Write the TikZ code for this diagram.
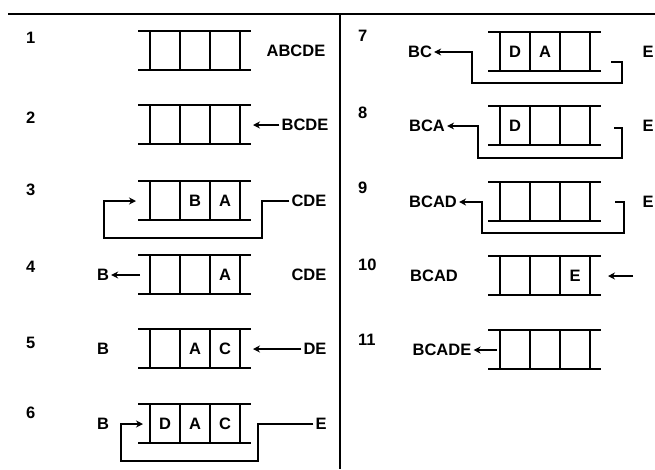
\documentclass[tikz,border=0pt]{standalone}
\usepackage{fontspec}
\setmainfont{Liberation Sans}
\usetikzlibrary{arrows.meta}

\begin{document}
\begin{tikzpicture}[x=1pt,y=-1pt]
\tikzstyle{T}=[inner sep=2pt,font=\bfseries\fontsize{16.5}{18}\selectfont]
\tikzstyle{Q}=[line width=1.8pt]
\tikzstyle{L}=[line width=1.4pt]
\tikzstyle{A}=[line width=1.4pt,-{Stealth[length=7pt,width=7pt]}]
\useasboundingbox (0,0) rectangle (655,469);
\draw[L] (8,14) -- (655,14);
\draw[L] (340,14) -- (340,469);
% queues: number/left end/top
\foreach \n/\x/\y in {1/138/31,2/138/105,3/138/181,4/138/255,5/138/329,6/138/404,
  7/488/32,8/488/106,9/488/182,10/488/256,11/488/330}{
  \draw[Q] (\x,\y) -- ++(113,0) (\x,\y+39) -- ++(113,0);
  \foreach \c in {0,1,2,3} \draw[Q] (\x+12+30*\c,\y) -- ++(0,39);
  \foreach \c in {1,2,3} \coordinate (q\n-\c) at (\x-3+30*\c,\y+20);
  \coordinate (q\n-l) at (\x,\y+20);
  \coordinate (q\n-r) at (\x+113,\y+20);
}
% step numbers
\foreach \n/\x/\y in {1/24/38,2/24/118,3/24/190,4/24/267,5/24/343,6/24/413,
  7/356/36,8/356/113,9/356/188,10/356/265,11/356/340}
  \node[T,anchor=west] (n\n) at (\x,\y) {\n};

% 1, 2
\node[T] (t1) at (296,51) {ABCDE};
\node[T] (t2) at (305,125) {BCDE};
\draw[A] (t2.west) -- ([xshift=2]q2-r);
% 3
\node[T] at (q3-2) {B};
\node[T] at (q3-3) {A};
\node[T] (t3) at (309,201) {CDE};
\draw[A] (t3.west) -- ([xshift=11]q3-r) -- ++(0,37) -| ([xshift=-34]q3-l) -- ([xshift=-2]q3-l);
% 4
\node[T] at (q4-3) {A};
\node[T] (t4b) at (103,275) {B};
\node[T] (t4) at (309,275) {CDE};
\draw[A] ([xshift=2]q4-l) -- (t4b.east);
% 5
\node[T] at (q5-2) {A};
\node[T] at (q5-3) {C};
\node[T] (t5b) at (103,349) {B};
\node[T] (t5) at (315,349) {DE};
\draw[A] (t5.west) -- ([xshift=2]q5-r);
% 6
\node[T] at (q6-1) {D};
\node[T] at (q6-2) {A};
\node[T] at (q6-3) {C};
\node[T] (t6b) at (103,424) {B};
\node[T] (t6) at (321,424) {E};
\draw[A] (t6.west) -- ([xshift=7]q6-r) -- ++(0,37) -| ([xshift=-17]q6-l) -- ([xshift=5]q6-l);
% 7
\node[T] at (q7-1) {D};
\node[T] at (q7-2) {A};
\node[T] (t7b) at (420,52) {BC};
\node[T] (t7) at (648,52) {E};
\draw[A] ([shift={(10,10)}]q7-r) -- ++(11,0) -- ++(0,21) -| ([xshift=-16]q7-l) -- (t7b.east);
% 8
\node[T] at (q8-1) {D};
\node[T] (t8b) at (427,126) {BCA};
\node[T] (t8) at (648,126) {E};
\draw[A] ([shift={(13,2)}]q8-r) -- ++(8,0) -- ++(0,30) -| ([xshift=-10]q8-l) -- (t8b.east);
% 9
\node[T] (t9b) at (433,202) {BCAD};
\node[T] (t9) at (648,202) {E};
\draw[A] ([xshift=14]q9-r) -- ++(9,0) -- ++(0,31) -| ([xshift=-6]q9-l) -- (t9b.east);
% 10
\node[T] at (q10-3) {E};
\node[T] (t10b) at (434,276) {BCAD};
\coordinate (e10) at (633,276);
\draw[A] (e10) -- ([xshift=7]q10-r);
% 11
\node[T] (t11b) at (442,350) {BCADE};
\draw[A] ([xshift=9]q11-l) -- (t11b.east);
\end{tikzpicture}
\end{document}
